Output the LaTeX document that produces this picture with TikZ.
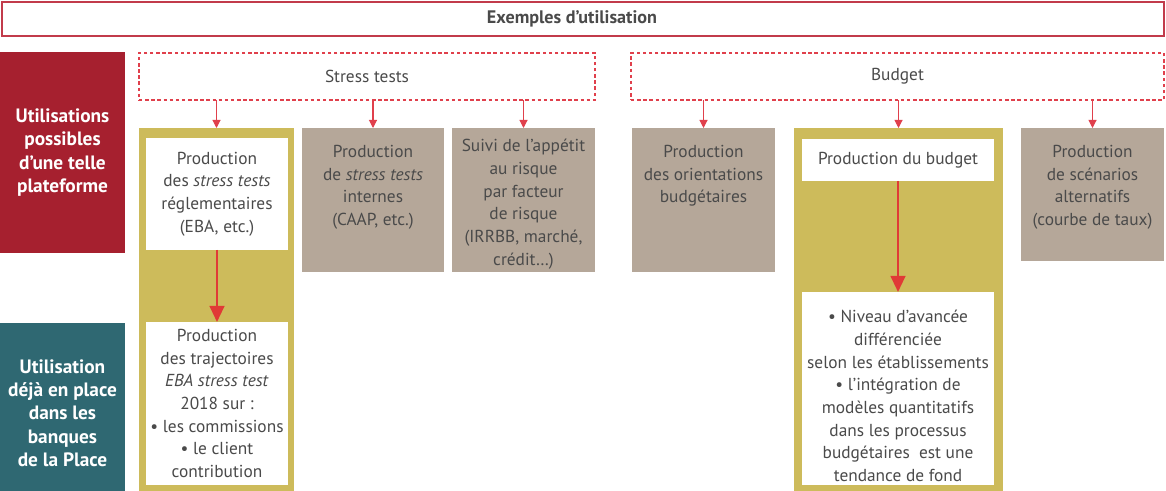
\documentclass[tikz,border=0pt]{standalone}
\usepackage{fontspec}
\setmainfont{PT Sans}
\usetikzlibrary{arrows.meta,positioning}

\definecolor{bdfred}{HTML}{A6202F}
\definecolor{bdfteal}{HTML}{2F6872}
\definecolor{bdfgold}{HTML}{CDBB5B}
\definecolor{bdfgrey}{HTML}{B5A799}
\definecolor{bdfline}{HTML}{E0404C}
\definecolor{bdfarrow}{HTML}{E03A36}
\definecolor{bdftext}{HTML}{4A4A4A}

\tikzset{
  sz/.style 2 args={minimum width=#1*0.75pt, minimum height=#2*0.75pt, inner sep=0pt, outer sep=0pt},
  txt/.style={align=center, text=bdftext, font=\fontsize{13}{17}\selectfont, inner sep=0pt},
  sidebox/.style={fill=#1, text=white, align=center, font=\bfseries\fontsize{14.5}{17.5}\selectfont},
  dashbox/.style={draw=bdfline, line width=1.5pt, dash pattern=on 2.6pt off 2pt},
  greybox/.style={fill=bdfgrey},
  goldbox/.style={fill=bdfgold},
  whitebox/.style={fill=white, txt},
  smallarrow/.style={draw=bdfline, line width=0.8pt, -{Triangle[width=6pt,length=6pt]}},
  bigarrow/.style={draw=bdfarrow, line width=1.6pt, -{Triangle[width=11pt,length=12pt]}}
}

\begin{document}
\begin{tikzpicture}[x=0.75pt,y=0.75pt,yscale=-1,xscale=1]
\useasboundingbox (0,0) rectangle (1166,491);

% Title
\node [sz={1162}{34}, draw={rgb,255:red,194;green,59;blue,75}, line width=1pt] (titre) at (583,19) {};
\node [txt, font=\bfseries\fontsize{13.6}{17}\selectfont] (titretxt) at (572,19) {Exemples d’utilisation};

% Side labels
\node [sz={125}{201}, sidebox=bdfred] (possibles) at (62.5,152.5) {Utilisations\\possibles\\d’une telle\\plateforme};
\node [sz={125}{168}, sidebox=bdfteal] (deja) at (62.5,407) {};
\node [txt, text=white, font=\bfseries\fontsize{14.5}{17.5}\selectfont] (dejatxt) at (62.5,413) {Utilisation\\déjà en place\\dans les\\banques\\de la Place};

% Dashed headers
\node [sz={456}{47}, dashbox, txt] (stress) at (367,76.5) {Stress tests};
\node [sz={533}{47}, dashbox, txt] (budget) at (897.5,76.5) {Budget};

% Stress tests column
\node [sz={155}{363}, goldbox] (col1) at (216.5,309.5) {};
\node [sz={142}{112}, whitebox] (reg) at (217,194) {Production\\des \textit{stress tests}\\réglementaires\\(EBA, etc.)};
\node [sz={142}{163}, whitebox] (traj) at (217,403.5) {Production\\des trajectoires\\\textit{EBA stress test}\\2018 sur :\\• les commissions\\• le client\\contribution};

\node [sz={142}{144}, greybox] (internes) at (373,200) {};
\node [txt, below=12.75pt of internes.north] (internestxt) {Production\\de \textit{stress tests}\\internes\\(CAAP, etc.)};

\node [sz={143}{144}, greybox] (appetit) at (523.5,200) {};
\node [txt, below=8.25pt of appetit.north] (appetittxt) {Suivi de l’appétit\\au risque\\par facteur\\de risque\\(IRRBB, marché,\\crédit…)};

% Budget column
\node [sz={143}{144}, greybox] (orient) at (703.5,200) {};
\node [txt, below=12.75pt of orient.north] (orienttxt) {Production\\des orientations\\budgétaires};

\node [sz={209}{363}, goldbox] (col5) at (898.5,309.5) {};
\node [sz={192}{42}, whitebox] (prodbud) at (898,160) {Production du budget};
\node [sz={192}{193}, whitebox] (niveau) at (898,388.5) {};
\node [txt] (niveautxt) at (898,396) {• Niveau d’avancée\\différenciée\\selon les établissements\\• l’intégration de\\modèles quantitatifs\\dans les processus\\budgétaires~ est une\\tendance de fond};

\node [sz={143}{133}, greybox] (scenar) at (1092.5,194.5) {};
\node [txt, below=12.75pt of scenar.north] (scenartxt) {Production\\de scénarios\\alternatifs\\(courbe de taux)};

%Straight Lines
\draw [smallarrow] (stress.south -| col1.north) -- (col1.north);
\draw [smallarrow] (stress.south -| internes.north) -- (internes.north);
\draw [smallarrow] (stress.south -| appetit.north) -- (appetit.north);
\draw [smallarrow] (budget.south -| orient.north) -- (orient.north);
\draw [smallarrow] (budget.south -| col5.north) -- (col5.north);
\draw [smallarrow] (budget.south -| scenar.north) -- (scenar.north);

\draw [bigarrow] (reg.south) -- (traj.north);
\draw [bigarrow] (prodbud.south) -- (niveau.north);

\end{tikzpicture}
\end{document}
